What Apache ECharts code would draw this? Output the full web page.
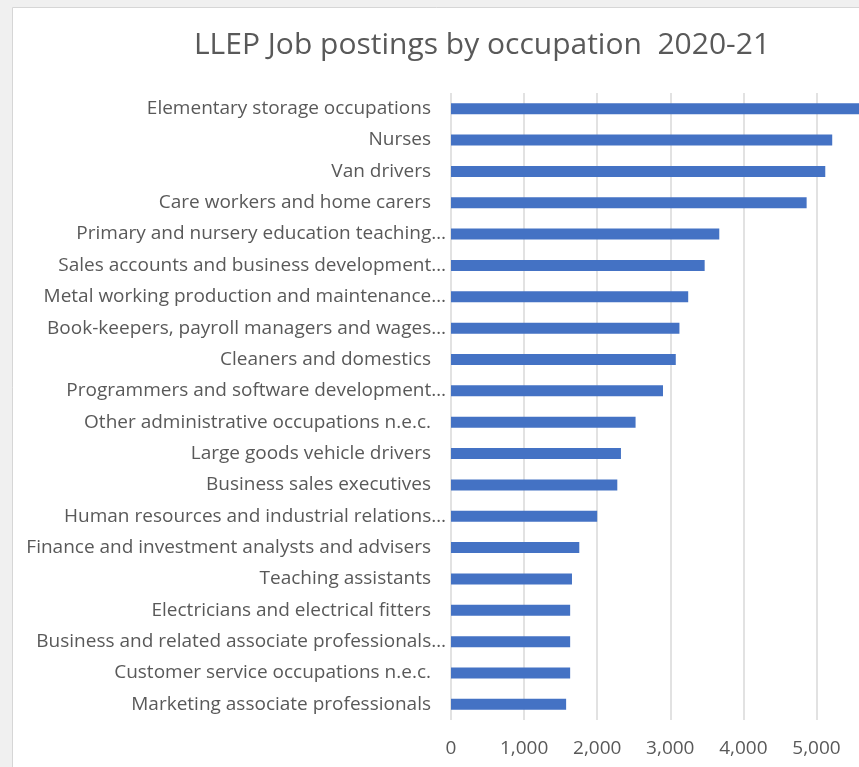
<!DOCTYPE html>
<html>
<head>
<meta charset="utf-8">
<style>
  html, body { margin: 0; padding: 0; background: #f0f0f0; }
  #chart { width: 859px; height: 767px; }
</style>
<script src="https://cdn.jsdelivr.net/npm/echarts@6/dist/echarts.min.js"></script>
</head>
<body>
<div id="chart"></div>
<script>
// Job postings by occupation, LLEP area, 2020-21
const occupations = [
  "Elementary storage occupations",
  "Nurses",
  "Van drivers",
  "Care workers and home carers",
  "Primary and nursery education teaching…",
  "Sales accounts and business development…",
  "Metal working production and maintenance…",
  "Book-keepers, payroll managers and wages…",
  "Cleaners and domestics",
  "Programmers and software development…",
  "Other administrative occupations n.e.c.",
  "Large goods vehicle drivers",
  "Business sales executives",
  "Human resources and industrial relations…",
  "Finance and investment analysts and advisers",
  "Teaching assistants",
  "Electricians and electrical fitters",
  "Business and related associate professionals…",
  "Customer service occupations n.e.c.",
  "Marketing associate professionals"
];

const postings = [
  5750, 5215, 5120, 4865, 3670, 3470, 3245, 3125, 3075, 2900,
  2525, 2325, 2275, 2000, 1755, 1655, 1630, 1630, 1630, 1575
];

const axisMax = 6000;
const axisStep = 1000;

const chart = echarts.init(document.getElementById('chart'));

const textColor = '#595959';
const fontFamily = '"Open Sans", sans-serif';
const labelSize = 19;

chart.setOption({
  animation: false,
  backgroundColor: '#f0f0f0',
  graphic: [{
    type: 'rect',
    z: -10,
    shape: { x: 12.5, y: 7.5, width: 900, height: 800 },
    style: { fill: '#ffffff', stroke: '#d6d6d6', lineWidth: 1 }
  }],
  title: {
    text: 'LLEP Job postings by occupation  2020-21',
    left: 477,
    textAlign: 'center',
    top: 25,
    textStyle: {
      color: textColor,
      fontFamily: fontFamily,
      fontSize: 30,
      fontWeight: 'normal'
    }
  },
  grid: {
    left: 451,
    top: 93,
    width: 438.6,
    bottom: 47,
    outerBoundsMode: 'none',
    containLabel: false
  },
  xAxis: {
    type: 'value',
    min: 0,
    max: axisMax,
    interval: axisStep,
    axisLine: { show: false },
    axisTick: { show: false },
    splitLine: { lineStyle: { color: '#d9d9d9', width: 1.5 } },
    axisLabel: {
      color: textColor,
      fontFamily: fontFamily,
      fontSize: labelSize,
      margin: 19,
      formatter: v => v.toLocaleString('en-US')
    }
  },
  yAxis: {
    type: 'category',
    inverse: true,
    data: occupations,
    axisLine: { show: false },
    axisTick: { show: false },
    axisLabel: {
      color: textColor,
      fontFamily: fontFamily,
      fontSize: labelSize,
      margin: 5,
      formatter: name => name.endsWith('…') ? '{t|' + name + '}' : '{f|' + name + '}',
      rich: {
        t: { color: textColor, fontFamily: fontFamily, fontSize: labelSize },
        f: { color: textColor, fontFamily: fontFamily, fontSize: labelSize, padding: [0, 15, 0, 0] }
      }
    }
  },
  series: [{
    type: 'bar',
    data: postings,
    barWidth: 11,
    itemStyle: { color: '#4472c4' }
  }]
});
</script>
</body>
</html>
